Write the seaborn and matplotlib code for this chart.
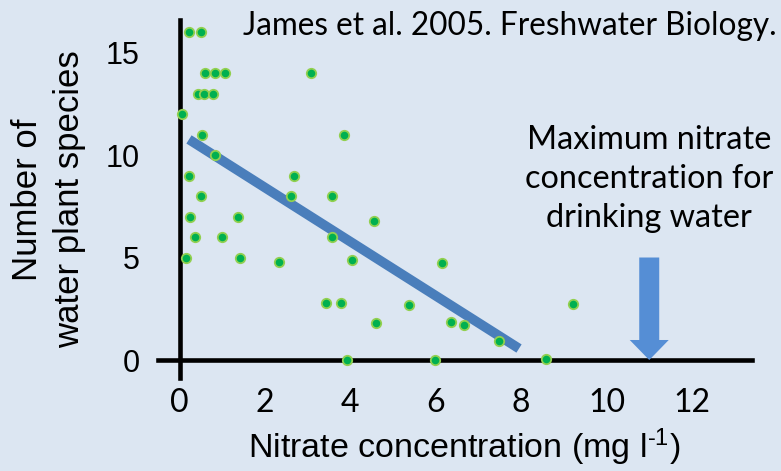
import matplotlib
matplotlib.use("Agg")
import matplotlib.pyplot as plt
import seaborn as sns
import pandas as pd
from matplotlib.patches import FancyArrow

# ---- data ----
nitrate = [0.23, 0.50, 0.60, 0.83, 1.07, 3.07, 0.43, 0.57, 0.78, 0.06,
           0.52, 0.83, 3.85, 0.22, 0.50, 0.25, 1.36, 0.36, 0.99, 0.14,
           1.41, 2.34, 2.67, 2.61, 3.56, 3.56, 4.04, 4.55, 3.44, 3.77,
           4.60, 3.91, 6.14, 5.37, 9.21, 6.36, 6.66, 7.49, 5.98, 8.58]
species = [16, 16, 14, 14, 14, 14, 13, 13, 13, 12,
           11, 10, 11, 9, 8, 7, 7, 6, 6, 5,
           5, 4.8, 9, 8, 8, 6, 4.9, 6.8, 2.8, 2.8,
           1.8, 0, 4.75, 2.7, 2.75, 1.85, 1.7, 0.93, 0, 0.03]
fit_x = [0.22, 7.95]
fit_y = [10.76, 0.56]
arrow_x = 11.0
arrow_top = 5.0
x_ticks = [0, 2, 4, 6, 8, 10, 12]
y_ticks = [0, 5, 10, 15]

BG = "#dce6f2"

sns.set_theme(style="white", rc={"figure.facecolor": BG, "axes.facecolor": BG})
plt.rcParams["font.family"] = ["Liberation Sans", "DejaVu Sans"]
plt.rcParams["mathtext.fontset"] = "custom"
plt.rcParams["mathtext.rm"] = "Liberation Sans"
plt.rcParams["mathtext.it"] = "Liberation Sans"
plt.rcParams["mathtext.default"] = "regular"

fig = plt.figure(figsize=(7.81, 4.71), dpi=100)
fig.patch.set_facecolor(BG)
ax = fig.add_axes([0.2026, 0.1964, 0.7599, 0.7611])
ax.set_facecolor(BG)

df = pd.DataFrame({"x": nitrate, "y": species})
fit = pd.DataFrame({"x": fit_x, "y": fit_y})

sns.lineplot(data=fit, x="x", y="y", ax=ax, color="#4a7ebb", linewidth=7,
             solid_capstyle="butt", zorder=3)
sns.scatterplot(data=df, x="x", y="y", ax=ax, s=46, color="#00b050",
                edgecolor="#92d050", linewidth=1.3, zorder=5, clip_on=False)

ax.add_patch(FancyArrow(arrow_x, arrow_top, 0, -arrow_top, width=0.468,
                        head_width=0.913, head_length=0.976,
                        length_includes_head=True, color="#558ed5",
                        linewidth=0, zorder=3))

ax.set_xlim(-0.5, 13.4)
ax.set_ylim(-0.902, 16.585)
ax.set_xticks(x_ticks)
ax.set_yticks(y_ticks)
ax.set_xticklabels([str(v) for v in x_ticks])
ax.set_yticklabels([str(v) for v in y_ticks])

for side in ["top", "right"]:
    ax.spines[side].set_visible(False)
for side in ["left", "bottom"]:
    ax.spines[side].set_position(("data", 0))
    ax.spines[side].set_linewidth(3.3)
    ax.spines[side].set_color("black")

ax.tick_params(axis="x", direction="out", length=13, width=3.3, color="black",
               pad=7, labelsize=23, labelcolor="black")
ax.tick_params(axis="y", direction="out", length=14.5, width=3.3, color="black",
               pad=14, labelsize=22, labelcolor="black")
for lbl in ax.get_xticklabels():
    lbl.set_fontfamily("Lato")
for lbl in ax.get_yticklabels():
    lbl.set_fontfamily("Liberation Sans")

ax.set_xlabel("Nitrate concentration (mg l$^{\u20101}$)", fontsize=24.5,
              color="black", family="Liberation Sans")
ax.xaxis.set_label_coords(0.515, -0.135)
ax.set_ylabel("Number of\nwater plant species", fontsize=25, color="black",
              linespacing=1.35, family="Liberation Sans")
ax.yaxis.set_label_coords(-0.122, 0.5)

fig.text(777 / 781, 1 - 35 / 471, "James et al. 2005. Freshwater Biology.",
         ha="right", va="baseline", fontsize=22.7, family="Lato", color="black")
fig.text(649 / 781, 1 - 179 / 471,
         "Maximum nitrate\nconcentration for\ndrinking water",
         ha="center", va="center", fontsize=23.3,
         family="Lato", color="black", linespacing=1.38)

fig.savefig("out.png", dpi=100, facecolor=BG)
